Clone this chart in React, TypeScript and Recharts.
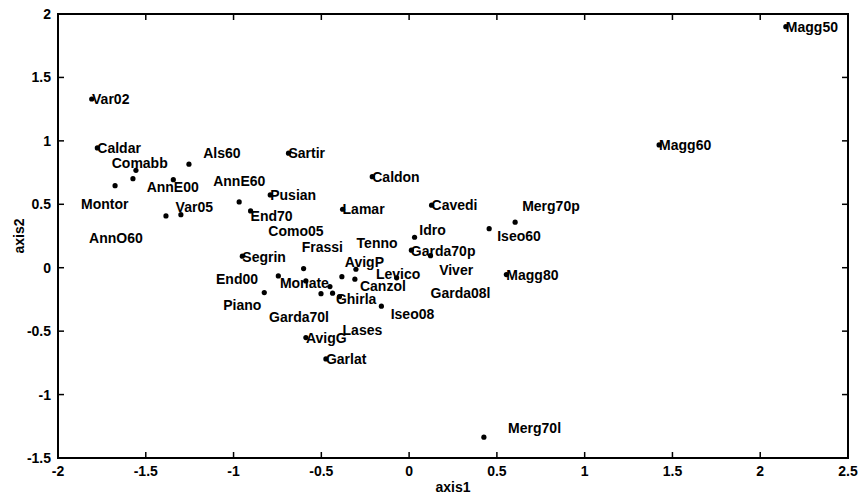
import { ScatterChart, Scatter, XAxis, YAxis } from "recharts";

// site scores (dots)
const pointX = [
  -1.808, -1.776, -1.556, -1.573, -1.675, -1.343, -1.254, -1.385, -1.3, -0.968,
  -0.791, -0.903, -0.687, -0.21, -0.379, 0.128, 0.031, 0.013, 0.122, 0.604,
  0.456, 0.554, 1.424, 2.146, 0.426, -0.95, -0.601, -0.303, -0.745, -0.383,
  -0.309, -0.071, -0.588, -0.451, -0.825, -0.502, -0.436, -0.397, -0.158, -0.588,
  -0.474,
];
const pointY = [
  1.33, 0.944, 0.768, 0.702, 0.647, 0.694, 0.816, 0.408, 0.418, 0.519,
  0.574, 0.448, 0.903, 0.718, 0.461, 0.493, 0.24, 0.138, 0.095, 0.359,
  0.308, -0.054, 0.968, 1.9, -1.336, 0.091, -0.007, -0.012, -0.065, -0.071,
  -0.09, -0.08, -0.104, -0.149, -0.196, -0.205, -0.201, -0.228, -0.303, -0.551,
  -0.719,
];

// site names and where their text sits
const labelNames = [
  "Var02", "Caldar", "Comabb", "Als60", "Sartir", "AnnE00", "AnnE60", "Pusian", "Caldon", "Montor",
  "Var05", "End70", "Lamar", "Cavedi", "Merg70p", "Iseo60", "Magg60", "Magg50", "Como05", "AnnO60",
  "Frassi", "Tenno", "Idro", "Garda70p", "Segrin", "AvigP", "End00", "Monate", "Levico", "Canzol",
  "Viver", "Magg80", "Garda08l", "Piano", "Ghirla", "Garda70l", "Iseo08", "Lases", "AvigG", "Garlat",
  "Merg70l",
];
const labelX = [
  -1.806, -1.776, -1.694, -1.173, -0.687, -1.495, -1.116, -0.791, -0.21, -1.869,
  -1.33, -0.903, -0.379, 0.128, 0.644, 0.502, 1.424, 2.146, -0.802, -1.823,
  -0.612, -0.299, 0.058, 0.01, -0.95, -0.366, -1.1, -0.736, -0.189, -0.28,
  0.171, 0.554, 0.122, -1.059, -0.417, -0.798, -0.105, -0.379, -0.588, -0.474,
  0.564,
];
const labelY = [
  1.33, 0.944, 0.823, 0.907, 0.903, 0.639, 0.684, 0.574, 0.718, 0.5,
  0.477, 0.408, 0.461, 0.491, 0.489, 0.251, 0.964, 1.898, 0.29, 0.232,
  0.166, 0.198, 0.298, 0.132, 0.087, 0.048, -0.091, -0.122, -0.051, -0.141,
  -0.017, -0.059, -0.201, -0.293, -0.248, -0.39, -0.364, -0.49, -0.553, -0.721,
  -1.265,
];

const xTicks = [-2, -1.5, -1, -0.5, 0, 0.5, 1, 1.5, 2, 2.5];
const yTicks = [-1.5, -1, -0.5, 0, 0.5, 1, 1.5, 2];

const points = pointX.map((x, i) => ({ x, y: pointY[i] }));
const labels = labelNames.map((name, i) => ({ x: labelX[i], y: labelY[i], name }));

const W = 858;
const H = 496;
const PLOT_L = 58;
const PLOT_R = 848;
const PLOT_T = 14;
const PLOT_B = 458;
const TICK_LEN = 6;
const FONT = '"Liberation Sans", Arial, sans-serif';

const textStyle = { fontFamily: FONT, fontSize: 14, fontWeight: 700, fill: "#000" };

// each tick draws its label plus the inward marks on both opposite sides
const BottomTick = ({ x, payload }: any) => (
  <g>
    <line x1={x} x2={x} y1={PLOT_B} y2={PLOT_B - TICK_LEN} stroke="#000" strokeWidth={1.5} />
    <line x1={x} x2={x} y1={PLOT_T} y2={PLOT_T + TICK_LEN} stroke="#000" strokeWidth={1.5} />
    <text x={x} y={PLOT_B + 18} textAnchor="middle" style={textStyle}>
      {payload.value}
    </text>
  </g>
);

const LeftTick = ({ y, payload }: any) => (
  <g>
    <line x1={PLOT_L} x2={PLOT_L + TICK_LEN} y1={y} y2={y} stroke="#000" strokeWidth={1.5} />
    <line x1={PLOT_R} x2={PLOT_R - TICK_LEN} y1={y} y2={y} stroke="#000" strokeWidth={1.5} />
    <text x={PLOT_L - 7} y={y + 5} textAnchor="end" style={textStyle}>
      {payload.value}
    </text>
  </g>
);

const Dot = ({ cx, cy }: any) => <circle cx={cx} cy={cy} r={2.6} fill="#000" />;

const SiteName = ({ cx, cy, payload }: any) => (
  <text x={cx} y={cy} dy="0.36em" style={textStyle}>
    {payload.name}
  </text>
);

export default function App() {
  return (
    <div style={{ position: "fixed", left: 0, top: 0, width: W, height: H, background: "#fff" }}>
      <ScatterChart
        width={W}
        height={H}
        margin={{ top: PLOT_T, right: W - PLOT_R, bottom: 0, left: 0 }}
      >
        <XAxis
          type="number"
          dataKey="x"
          domain={[-2, 2.5]}
          ticks={xTicks}
          interval={0}
          height={H - PLOT_B}
          axisLine={{ stroke: "#000", strokeWidth: 2 }}
          tickLine={false}
          tick={<BottomTick />}
        />
        <YAxis
          type="number"
          dataKey="y"
          domain={[-1.5, 2]}
          ticks={yTicks}
          interval={0}
          width={PLOT_L}
          axisLine={{ stroke: "#000", strokeWidth: 2 }}
          tickLine={false}
          tick={<LeftTick />}
        />
        <Scatter data={points} shape={<Dot />} isAnimationActive={false} />
        <Scatter data={labels} shape={<SiteName />} isAnimationActive={false} />
      </ScatterChart>
      {/* box edges and axis titles on top of the chart */}
      <svg
        width={W}
        height={H}
        style={{ position: "absolute", left: 0, top: 0, pointerEvents: "none" }}
      >
        <rect
          x={PLOT_L}
          y={PLOT_T}
          width={PLOT_R - PLOT_L}
          height={PLOT_B - PLOT_T}
          fill="none"
          stroke="#000"
          strokeWidth={2}
        />
        <text x={(PLOT_L + PLOT_R) / 2} y={492} textAnchor="middle" style={textStyle}>
          axis1
        </text>
        <text
          x={19}
          y={(PLOT_T + PLOT_B) / 2}
          dy="0.36em"
          textAnchor="middle"
          transform={`rotate(-90 19 ${(PLOT_T + PLOT_B) / 2})`}
          style={textStyle}
        >
          axis2
        </text>
      </svg>
    </div>
  );
}
